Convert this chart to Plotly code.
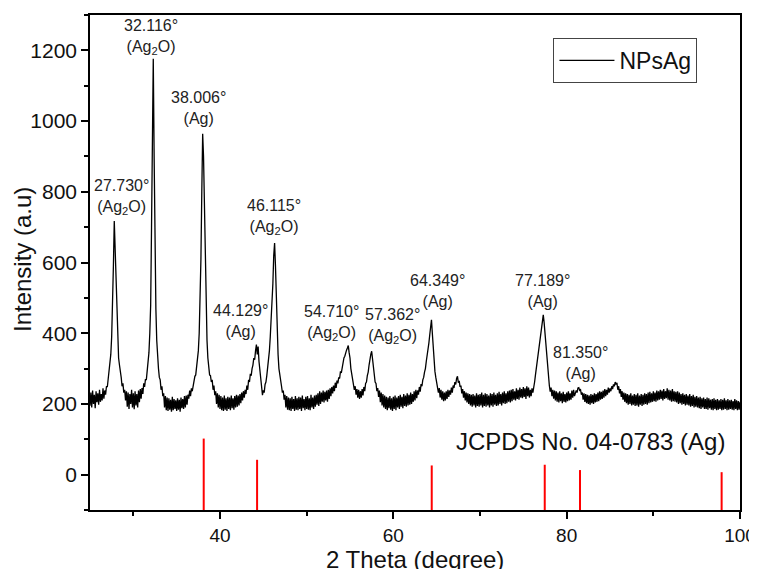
import plotly.graph_objects as go

# ---------------- data ----------------
theta_start = 25.0
theta_step = 0.1
intensity = [
    # 25.x
    195, 232, 190, 238, 200, 226, 188, 236, 205, 230,
    # 26.x
    198, 240, 206, 228, 210, 244, 215, 238, 226, 250,
    # 27.x
    248, 275, 282, 310, 340, 390, 460, 590, 717, 640,
    # 28.x
    530, 440, 380, 330, 310, 280, 275, 250, 258, 232,
    # 29.x
    240, 210, 236, 192, 232, 186, 228, 200, 240, 190,
    # 30.x
    230, 185, 236, 196, 228, 190, 238, 205, 242, 215,
    # 31.x
    245, 228, 258, 248, 270, 268, 290, 305, 345, 400,
    # 32.x
    480, 700, 1000, 1176, 900, 640, 470, 380, 320, 300,
    # 33.x
    275, 268, 240, 250, 222, 230, 190, 222, 182, 218,
    # 34.x
    180, 216, 184, 212, 178, 220, 182, 214, 186, 210,
    # 35.x
    180, 216, 184, 212, 178, 218, 188, 214, 186, 222,
    # 36.x
    190, 224, 198, 226, 215, 238, 222, 244, 236, 252,
    # 37.x
    258, 278, 282, 300, 325, 350, 400, 480, 610, 800,
    # 38.x
    964, 900, 780, 600, 450, 380, 330, 310, 282, 280,
    # 39.x
    262, 268, 240, 252, 225, 236, 200, 230, 190, 226,
    # 40.x
    186, 222, 182, 218, 180, 224, 184, 216, 180, 220,
    # 41.x
    186, 218, 182, 224, 188, 216, 184, 222, 190, 226,
    # 42.x
    192, 224, 196, 228, 202, 232, 210, 236, 218, 240,
    # 43.x
    228, 252, 240, 268, 262, 285, 280, 300, 310, 330,
    # 44.x
    325, 350, 368, 340, 362, 320, 295, 262, 245, 225,
    # 45.x
    238, 232, 255, 262, 280, 300, 320, 350, 390, 430,
    # 46.x
    480, 540, 620, 655, 590, 480, 400, 340, 300, 278,
    # 47.x
    262, 250, 232, 238, 212, 226, 190, 222, 184, 218,
    # 48.x
    182, 216, 180, 220, 186, 214, 180, 222, 184, 216,
    # 49.x
    182, 220, 186, 218, 180, 224, 188, 214, 182, 220,
    # 50.x
    186, 222, 184, 216, 182, 226, 190, 218, 186, 224,
    # 51.x
    192, 226, 198, 230, 194, 236, 200, 232, 206, 238,
    # 52.x
    204, 234, 210, 238, 206, 240, 214, 244, 222, 248,
    # 53.x
    230, 252, 236, 260, 245, 266, 258, 275, 272, 292,
    # 54.x
    288, 305, 310, 330, 335, 350, 352, 358, 365, 345,
    # 55.x
    330, 300, 285, 262, 258, 240, 250, 226, 242, 218,
    # 56.x
    240, 214, 236, 218, 242, 224, 248, 236, 258, 262,
    # 57.x
    280, 290, 310, 330, 340, 349, 325, 300, 285, 262,
    # 58.x
    258, 236, 245, 220, 238, 205, 232, 196, 228, 190,
    # 59.x
    224, 186, 220, 182, 218, 188, 222, 184, 216, 180,
    # 60.x
    220, 186, 224, 182, 218, 190, 222, 186, 226, 192,
    # 61.x
    220, 188, 228, 194, 224, 192, 230, 196, 226, 198,
    # 62.x
    232, 200, 228, 206, 236, 210, 240, 216, 238, 226,
    # 63.x
    248, 235, 256, 250, 268, 275, 290, 300, 320, 335,
    # 64.x
    350, 372, 395, 420, 438, 400, 360, 320, 292, 275,
    # 65.x
    260, 250, 232, 245, 218, 240, 212, 236, 208, 232,
    # 66.x
    210, 236, 214, 240, 220, 238, 226, 246, 232, 252,
    # 67.x
    245, 262, 255, 272, 278, 260, 265, 248, 252, 230,
    # 68.x
    242, 218, 236, 210, 232, 204, 230, 200, 228, 196,
    # 69.x
    226, 192, 228, 196, 224, 190, 230, 194, 226, 192,
    # 70.x
    228, 196, 232, 190, 226, 194, 230, 192, 228, 196,
    # 71.x
    224, 190, 230, 196, 228, 192, 232, 198, 226, 194,
    # 72.x
    230, 196, 234, 200, 228, 196, 232, 202, 236, 200,
    # 73.x
    230, 202, 236, 206, 238, 204, 240, 208, 242, 212,
    # 74.x
    236, 210, 244, 214, 240, 212, 246, 218, 242, 216,
    # 75.x
    248, 220, 244, 214, 250, 222, 246, 218, 240, 222,
    # 76.x
    244, 232, 256, 262, 282, 300, 325, 350, 368, 385,
    # 77.x
    400, 420, 435, 452, 430, 400, 365, 335, 295, 262,
    # 78.x
    252, 235, 246, 222, 240, 215, 238, 210, 236, 206,
    # 79.x
    232, 204, 236, 208, 230, 202, 234, 206, 228, 204,
    # 80.x
    232, 208, 236, 210, 230, 212, 238, 218, 240, 222,
    # 81.x
    236, 238, 232, 245, 246, 238, 240, 226, 232, 212,
    # 82.x
    230, 206, 228, 202, 226, 200, 224, 198, 228, 202,
    # 83.x
    226, 200, 230, 204, 228, 206, 232, 208, 236, 212,
    # 84.x
    234, 214, 238, 218, 242, 222, 240, 226, 246, 232,
    # 85.x
    244, 236, 250, 242, 255, 250, 262, 255, 260, 240,
    # 86.x
    250, 230, 242, 220, 236, 212, 232, 206, 230, 202,
    # 87.x
    228, 198, 226, 200, 230, 196, 224, 198, 228, 194,
    # 88.x
    226, 196, 230, 192, 224, 198, 228, 194, 226, 198,
    # 89.x
    230, 200, 228, 198, 232, 202, 234, 204, 230, 206,
    # 90.x
    236, 208, 232, 206, 238, 210, 236, 212, 240, 214,
    # 91.x
    238, 210, 242, 214, 236, 216, 244, 212, 240, 210,
    # 92.x
    238, 206, 242, 208, 236, 206, 234, 204, 236, 200,
    # 93.x
    232, 202, 228, 198, 230, 200, 226, 196, 228, 198,
    # 94.x
    224, 196, 228, 192, 222, 194, 226, 190, 220, 192,
    # 95.x
    222, 190, 218, 188, 220, 186, 216, 190, 218, 186,
    # 96.x
    214, 186, 218, 184, 216, 188, 212, 184, 214, 182,
    # 97.x
    216, 186, 212, 182, 214, 184, 210, 186, 214, 182,
    # 98.x
    212, 184, 216, 186, 210, 182, 214, 184, 210, 186,
    # 99.x
    212, 184, 208, 182, 214, 186, 210, 182, 208, 184,
    # 100.0
    206,
]
two_theta = [round(theta_start + i * theta_step, 1) for i in range(len(intensity))]

jcpds_theta = [38.12, 44.28, 64.43, 77.47, 81.54, 97.88]
jcpds_top = [102, 42, 26, 28, 13, 7]
stick_base = -100

peak_angle_text = ["27.730°", "32.116°", "38.006°", "44.129°", "46.115°",
                   "54.710°", "57.362°", "64.349°", "77.189°", "81.350°"]
peak_phase_text = ["(Ag<sub>2</sub>O)", "(Ag<sub>2</sub>O)", "(Ag)", "(Ag)", "(Ag<sub>2</sub>O)",
                   "(Ag<sub>2</sub>O)", "(Ag<sub>2</sub>O)", "(Ag)", "(Ag)", "(Ag)"]
label_x = [28.58, 32.04, 37.54, 42.31, 46.23, 52.85, 59.96, 65.15, 77.21, 81.54]
label_y = [786, 1237, 1038, 434, 730, 429, 421, 518, 520, 316]

# ---------------- figure ----------------
FONT = "Liberation Sans, Arial, sans-serif"

fig = go.Figure()
fig.add_trace(go.Scatter(
    x=two_theta, y=intensity, mode="lines", name="NPsAg",
    line=dict(color="black", width=1.3),
))

stick_x, stick_y = [], []
for t, h in zip(jcpds_theta, jcpds_top):
    stick_x += [t, t, None]
    stick_y += [stick_base, h, None]
fig.add_trace(go.Scatter(
    x=stick_x, y=stick_y, mode="lines", showlegend=False,
    line=dict(color="#ff0000", width=2),
))

annotations = []
for xa, ya, t1, t2 in zip(label_x, label_y, peak_angle_text, peak_phase_text):
    annotations.append(dict(
        x=xa, y=ya, xref="x", yref="y", text=f"{t1}<br>{t2}", showarrow=False,
        font=dict(family=FONT, size=16, color="#222222"), align="center",
        xanchor="center", yanchor="middle",
    ))
annotations.append(dict(
    x=0.77, y=0.139, xref="paper", yref="paper", text="JCPDS No. 04-0783 (Ag)",
    showarrow=False, font=dict(family=FONT, size=24, color="#111111"),
    xanchor="center", yanchor="middle",
))
annotations.append(dict(
    x=0.5, y=-0.099, xref="paper", yref="paper", text="2 Theta (degree)",
    showarrow=False, font=dict(family=FONT, size=24, color="#111111"),
    xanchor="center", yanchor="middle",
))
annotations.append(dict(
    x=-0.1046, y=0.505, xref="paper", yref="paper", text="Intensity (a.u)",
    showarrow=False, textangle=-90, font=dict(family=FONT, size=24, color="#111111"),
    xanchor="center", yanchor="middle",
))

axis_common = dict(
    showline=True, linecolor="black", linewidth=1.5, mirror=True,
    ticks="outside", tickcolor="black", tickwidth=1.5, ticklen=7,
    showgrid=False, zeroline=False,
)

# the page body has an 8px margin, so the figure is sized to fit the window
fig.update_layout(
    width=749, height=561,
    margin=dict(l=82, r=17, t=7, b=59, autoexpand=False),
    paper_bgcolor="white", plot_bgcolor="white",
    font=dict(family=FONT, color="black"),
    xaxis=dict(range=[25, 100], dtick=20, tick0=0,
               tickfont=dict(family=FONT, size=19, color="#111111"),
               minor=dict(dtick=10, tick0=0, ticks="outside", ticklen=4, tickcolor="black", tickwidth=1.5),
               **axis_common),
    yaxis=dict(range=[-100, 1300], dtick=200, tick0=0,
               tickfont=dict(family=FONT, size=21, color="#111111"),
               minor=dict(dtick=100, tick0=0, ticks="outside", ticklen=4, tickcolor="black", tickwidth=1.5),
               **axis_common),
    showlegend=True,
    legend=dict(x=0.713, y=0.9535, xanchor="left", yanchor="top",
                bgcolor="white", bordercolor="#444444", borderwidth=1,
                font=dict(family=FONT, size=23, color="#111111"),
                itemwidth=55, tracegroupgap=0),
    annotations=annotations,
)

fig.write_html("out.html")
